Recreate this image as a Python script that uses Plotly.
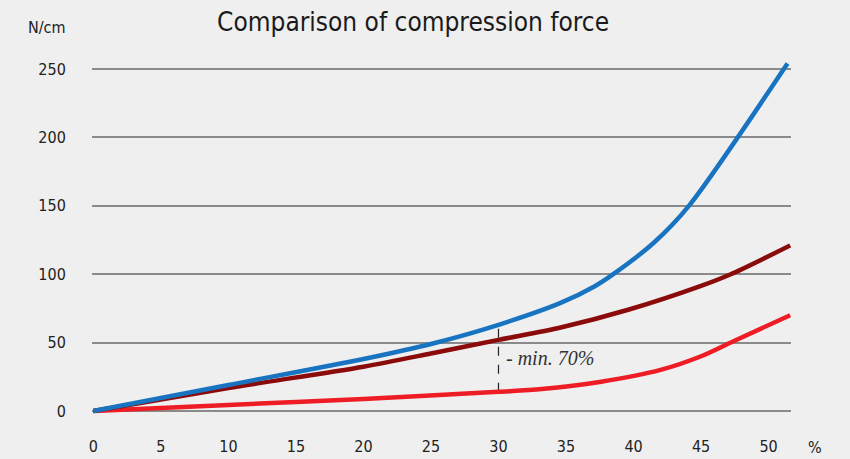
import plotly.graph_objects as go

blue_x = [0, 10, 20, 25, 30, 34.6, 37.1, 38.5, 41.5, 44.1, 51.4]
blue_y = [0, 19, 38, 49, 63, 79, 91, 100, 123, 150, 254]

dark_x = [0, 10, 20, 25, 30, 34.6, 39.6, 45, 47.2, 51.6]
dark_y = [0, 16.8, 32.4, 42, 52, 61, 74, 91.5, 100, 121]

red_x = [0, 10, 20, 30, 33.2, 37.6, 42, 45, 47.4, 51.6]
red_y = [0, 4.4, 8.8, 14, 16, 21.4, 30, 40, 51, 70]

x_ticks = [0, 5, 10, 15, 20, 25, 30, 35, 40, 45, 50]
y_ticks = [0, 50, 100, 150, 200, 250]

marker_x = 30
marker_top = 63
marker_bottom = 14

FONT = "DejaVu Sans Condensed, Roboto, sans-serif"

fig = go.Figure()
for xs, ys, col in [(red_x, red_y, "#ee1c25"), (dark_x, dark_y, "#8b0a0a"), (blue_x, blue_y, "#1874c1")]:
    fig.add_trace(go.Scatter(x=xs, y=ys, mode="lines",
                             line=dict(color=col, width=4.5, shape="spline", smoothing=0.8),
                             cliponaxis=False, hoverinfo="skip"))

fig.add_shape(type="line", x0=marker_x, x1=marker_x, y0=marker_bottom, y1=marker_top,
              line=dict(color="#222", width=1.2, dash="dash"), layer="below")
fig.add_annotation(x=marker_x, y=39, text="<i>- min. 70%</i>", showarrow=False,
                   xanchor="left", xshift=6,
                   font=dict(family="Liberation Serif, DejaVu Serif, serif", size=20, color="#333"))

fig.update_layout(
    width=850, height=459,
    margin=dict(l=92, r=59, t=60, b=39),
    paper_bgcolor="#efefef", plot_bgcolor="#efefef",
    showlegend=False,
    title=dict(text="Comparison of compression force", x=0.486, xanchor="center", y=0.952, yanchor="middle",
               font=dict(family=FONT, size=26, color="#1a1a1a")),
    font=dict(family=FONT, size=16, color="#222"),
)
fig.update_xaxes(range=[-0.1, 51.66], tickvals=x_ticks, ticktext=[str(v) for v in x_ticks],
                 showgrid=False, zeroline=False, showline=False, automargin=False,
                 ticks="outside", ticklen=12, tickcolor="rgba(0,0,0,0)")
fig.update_yaxes(range=[-6.6, 256.6], tickvals=y_ticks, ticktext=[str(v) for v in y_ticks],
                 showgrid=True, gridcolor="#8a8a8a", gridwidth=1.5, zeroline=False, showline=False,
                 automargin=False, ticks="outside", ticklen=22, tickcolor="rgba(0,0,0,0)")

fig.add_annotation(xref="paper", yref="paper", x=-0.035, y=1.089, text="N/cm", showarrow=False,
                   xanchor="right", yanchor="middle", font=dict(family=FONT, size=16, color="#222"))
fig.add_annotation(xref="paper", yref="paper", x=1.034, y=-0.075, text="%", showarrow=False,
                   xanchor="center", yanchor="middle", font=dict(family=FONT, size=16, color="#222"))

fig.write_html("out.html", config={"displayModeBar": False},
               post_script="document.body.style.margin='0';document.body.style.background='#efefef';")
